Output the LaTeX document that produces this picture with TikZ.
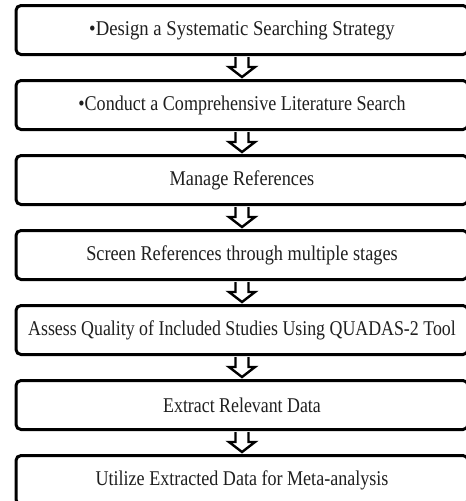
\documentclass[tikz,border=0pt]{standalone}
\usepackage{fontspec}
\setmainfont{Liberation Serif}
\usetikzlibrary{calc}
\tikzset{
  stagebox/.style={draw=black, line width=3pt, rounded corners=5pt, fill=white,
    minimum width=452pt, minimum height=49pt, inner sep=0pt,
    font=\fontsize{21}{24}\selectfont, text=black!88},
  hollowarrow/.style={draw=black, line width=2.4pt, fill=white, line join=miter}
}
% horizontally condensed label text
\newcommand{\narrowtext}[2]{\raisebox{-1.5pt}{\scalebox{#1}[1]{#2}}}
% block arrow from the bottom of one box to the top of the next
\newcommand{\steparrow}[2]{%
  \draw[hollowarrow]
    ($(#1.south)+(-6.5pt,-1pt)$) -- ($(#1.south)+(-6.5pt,-11pt)$)
    -- ($(#1.south)+(-13pt,-11pt)$) -- ($(#2.north)+(0pt,2pt)$)
    -- ($(#1.south)+(13pt,-11pt)$) -- ($(#1.south)+(6.5pt,-11pt)$)
    -- ($(#1.south)+(6.5pt,-1pt)$);
}
\begin{document}
\begin{tikzpicture}[x=1pt,y=1pt]
  \useasboundingbox (0,0) rectangle (466,-501);
  \clip (0,0) rectangle (466,-501);
  \fill[white] (0,0) rectangle (466,-501);

  \node[stagebox] (s1) at (242,-30)  {\narrowtext{0.89}{\textbullet Design a Systematic Searching Strategy}};
  \node[stagebox] (s2) at (242,-105) {\narrowtext{0.86}{\textbullet Conduct a Comprehensive Literature Search}};
  \node[stagebox] (s3) at (242,-180) {\narrowtext{0.87}{Manage References}};
  \node[stagebox] (s4) at (242,-255) {\narrowtext{0.87}{Screen References through multiple stages}};
  \node[stagebox] (s5) at (242,-330) {\narrowtext{0.85}{Assess Quality of Included Studies Using QUADAS-2 Tool}};
  \node[stagebox] (s6) at (242,-405) {\narrowtext{0.85}{Extract Relevant Data}};
  \node[stagebox] (s7) at (242,-480) {\raisebox{5pt}{\narrowtext{0.86}{Utilize Extracted Data for Meta-analysis}}};

  \steparrow{s1}{s2}
  \steparrow{s2}{s3}
  \steparrow{s3}{s4}
  \steparrow{s4}{s5}
  \steparrow{s5}{s6}
  \steparrow{s6}{s7}
\end{tikzpicture}
\end{document}
